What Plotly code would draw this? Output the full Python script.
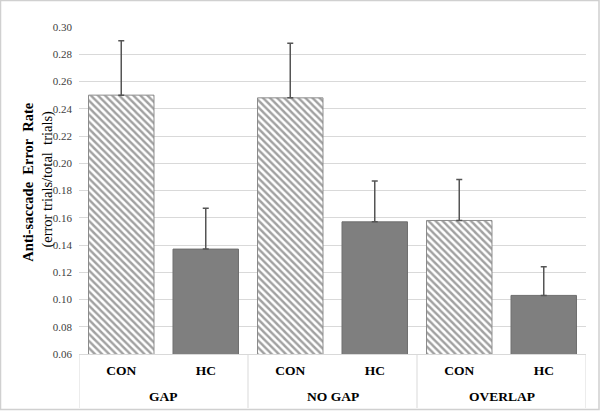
import plotly.graph_objects as go

conditions = ["GAP", "GAP", "NO GAP", "NO GAP", "OVERLAP", "OVERLAP"]
groups = ["CON", "HC", "CON", "HC", "CON", "HC"]
error_rate = [0.250, 0.137, 0.248, 0.157, 0.158, 0.103]
error_sd = [0.040, 0.030, 0.040, 0.030, 0.030, 0.021]
y_ticks = [0.06, 0.08, 0.10, 0.12, 0.14, 0.16, 0.18, 0.20, 0.22, 0.24, 0.26, 0.28, 0.30]

SERIF = "Liberation Serif"
positions = list(range(len(groups)))
fill_colors = ["white" if g == "CON" else "#7f7f7f" for g in groups]
patterns = ["\\" if g == "CON" else "" for g in groups]
line_colors = ["#8c8c8c" if g == "CON" else "#6f6f6f" for g in groups]

# outer (condition) groups
outer = []
for c in conditions:
    if c not in outer:
        outer.append(c)
outer_pos = [sum(p for p, cc in zip(positions, conditions) if cc == c) /
             conditions.count(c) for c in outer]
bounds = [-0.5] + [positions[i] + 0.5 for i in range(len(positions) - 1)
                   if conditions[i] != conditions[i + 1]] + [positions[-1] + 0.5]

fig = go.Figure()
fig.add_trace(go.Bar(
    x=positions,
    y=error_rate,
    width=0.775,
    marker=dict(
        color=fill_colors,
        line=dict(color=line_colors, width=1),
        pattern=dict(shape=patterns, fillmode="overlay", fgcolor="#1e1e1e",
                     size=5, solidity=0.48),
    ),
    error_y=dict(type="data", symmetric=False, array=error_sd,
                 arrayminus=[0] * len(error_sd),
                 color="#555555", thickness=1.5, width=3),
    showlegend=False,
    hoverinfo="skip",
))

AX_BOTTOM_PX = 54.0   # depth of category table below the plot
PLOT_H = 327.0

annotations = [
    dict(text="<b>%s</b>" % c, x=xp, xref="x", y=-42.0 / PLOT_H, yref="paper",
         xanchor="center", yanchor="middle", showarrow=False,
         font=dict(family=SERIF, size=13.5, color="#000000"))
    for c, xp in zip(outer, outer_pos)
]
annotations += [
    dict(text="<b>Anti-saccade  Error  Rate</b>", x=-51.0 / 507, xref="paper",
         y=0.524, yref="paper", textangle=-90, xanchor="center", yanchor="middle",
         showarrow=False, font=dict(family=SERIF, size=14.5, color="#000000")),
    dict(text="(error trials/total  trials)", x=-31.5 / 507, xref="paper",
         y=0.535, yref="paper", textangle=-90, xanchor="center", yanchor="middle",
         showarrow=False, font=dict(family=SERIF, size=14.5, color="#000000")),
]

shapes = [dict(type="line", xref="x", yref="paper", x0=b, x1=b, y0=0,
               y1=-AX_BOTTOM_PX / PLOT_H, line=dict(color="#d9d9d9", width=1))
          for b in bounds]
shapes.append(dict(type="rect", xref="paper", yref="paper",
                   x0=-78.5 / 507, x1=520.0 / 507, y0=-55.5 / PLOT_H, y1=353.5 / PLOT_H,
                   line=dict(color="#d0d0d0", width=1.5), fillcolor="rgba(0,0,0,0)",
                   layer="below"))

fig.update_layout(
    width=600, height=411,
    margin=dict(l=79, r=14, t=27, b=57),
    paper_bgcolor="white", plot_bgcolor="white",
    font=dict(family=SERIF, color="#000000"),
    hovermode=False,
    xaxis=dict(
        range=[-0.5, len(groups) - 0.5],
        tickvals=positions, ticktext=["<b>%s</b>" % g for g in groups],
        showgrid=False, zeroline=False,
        showline=True, linecolor="#d9d9d9", linewidth=1,
        ticks="outside", ticklen=4, tickcolor="rgba(0,0,0,0)",
        tickfont=dict(family=SERIF, size=13.5, color="#000000"),
    ),
    yaxis=dict(
        range=[0.06, 0.30],
        tickvals=y_ticks,
        tickformat=".2f",
        showgrid=True, gridcolor="#d9d9d9", gridwidth=1,
        zeroline=False, showline=False,
        ticks="", ticklabelstandoff=6,
        tickfont=dict(family=SERIF, size=11, color="#404040"),
    ),
    annotations=annotations,
    shapes=shapes,
)

fig.write_html("out.html",
               config={"displayModeBar": False, "staticPlot": True},
               post_script="document.body.style.margin='0px';document.body.style.padding='0px';")
